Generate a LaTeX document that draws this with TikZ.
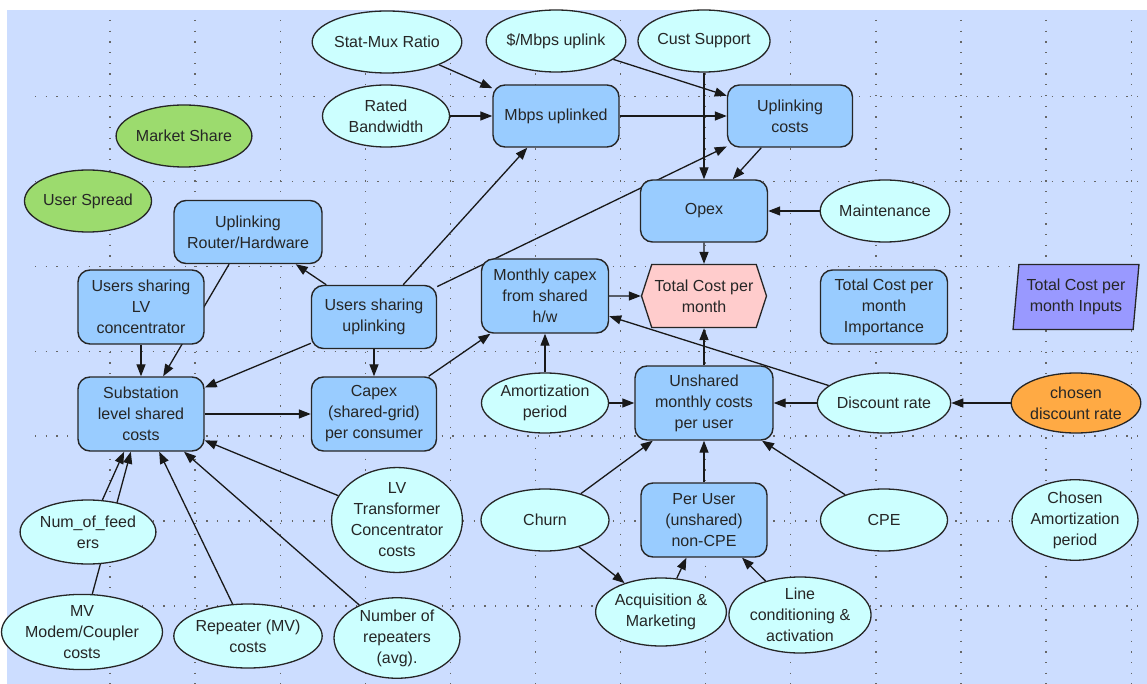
\documentclass[tikz,border=0pt]{standalone}
\usepackage{fontspec}
\setmainfont{Liberation Sans}
\usetikzlibrary{shapes.geometric,shapes.symbols,arrows.meta}
\definecolor{bgblue}{HTML}{CCDDFF}
\definecolor{boxblue}{HTML}{99CCFF}
\definecolor{ovalcyan}{HTML}{CCFFFF}
\definecolor{leafgreen}{HTML}{9CDB6E}
\definecolor{orangefill}{HTML}{FFAA44}
\definecolor{pinkfill}{HTML}{FFCCCC}
\definecolor{purplefill}{HTML}{9999FF}
\pgfdeclarelayer{back}
\pgfdeclarelayer{links}
\pgfsetlayers{back,links,main}

\begin{document}
\begin{tikzpicture}[x=1pt,y=-1pt,
    every node/.style={font=\fontsize{16}{21}\selectfont, text=black!85, align=center, inner sep=0pt},
    box/.style={rectangle, rounded corners=12pt, draw=black!85, line width=1.4pt, fill=boxblue, minimum width=126pt, minimum height=74pt},
    oval/.style={ellipse, draw=black!85, line width=1.3pt, fill=ovalcyan, minimum width=127pt, minimum height=62pt},
    link/.style={line width=1.3pt, black!90, -{Triangle[length=12pt,width=9pt]}},
    grid/.style={black!60, line width=1.3pt, dash pattern=on 1.3pt off 9.4pt}]
        \useasboundingbox (0,0) rectangle (1147,684);
        % Background and grid
        \begin{pgfonlayer}{back}
        \fill[bgblue] (7,10) rectangle (1147,684);
        \foreach \i in {0,...,12}
            \draw[grid] ({110+85.1*\i},20) -- ({110+85.1*\i},684);
        \foreach \j in {0,...,6}
            \draw[grid] (35,{96.5+84.9*\j}) -- (1147,{96.5+84.9*\j});
        \end{pgfonlayer}
        % Top row inputs
        \node[oval, minimum width=130pt] (smr) at (387,42) {Stat-Mux Ratio};
        \node[oval] (dpm) at (556,41) {\$/Mbps uplink};
        \node[oval] (cs) at (704,41) {Cust Support};
        \node[oval] (rbw) at (386,116) {Rated\\Bandwidth};
        \node[box, minimum height=62pt] (mbu) at (556,116) {Mbps uplinked};
        \node[box, minimum width=125pt, minimum height=62pt] (upc) at (790,116) {Uplinking\\costs};
        \node[oval, fill=leafgreen] (msh) at (184,136) {Market Share};
        \node[oval, fill=leafgreen] (usp) at (88,201) {User Spread};
        \node[box, minimum width=127pt, minimum height=62pt] (opx) at (704,211) {Opex};
        \node[oval] (mnt) at (885,211) {Maintenance};
        % Shared grid part
        \node[box, minimum width=148pt, minimum height=63pt] (rtr) at (248,232) {Uplinking\\Router/Hardware};
        \node[box] (ulv) at (141,307) {Users sharing\\LV\\concentrator};
        \node[box, minimum width=125pt, minimum height=63pt] (uul) at (374,317) {Users sharing\\uplinking};
        \node[box] (sub) at (141,414) {Substation\\level shared\\costs};
        \node[box, minimum width=125pt] (cpx) at (374,414) {Capex\\(shared-grid)\\per consumer};
        \node[box, minimum width=127pt] (mcx) at (545,296) {Monthly capex\\from shared\\h/w};
        % Totals
        \node[signal, signal to=west and east, signal pointer angle=144, draw=black!85, line width=1.3pt, fill=pinkfill,
              minimum width=125pt, minimum height=63pt] (tcm) at (704,296) {Total Cost per\\month};
        \node[box, minimum width=127pt] (imp) at (884,307) {Total Cost per\\month\\Importance};
        \node[trapezium, trapezium left angle=82, trapezium right angle=98, trapezium stretches=true, draw=black!85,
              line width=1.3pt, fill=purplefill, minimum width=126pt, minimum height=65pt] (tci) at (1076,297) {Total Cost per\\month Inputs};
        % Per user part
        \node[oval, minimum height=60pt] (amp) at (545,403) {Amortization\\period};
        \node[box, minimum width=138pt] (uns) at (704,403) {Unshared\\monthly costs\\per user};
        \node[oval, minimum height=60pt] (dsc) at (884,403) {Discount rate};
        \node[oval, minimum width=126pt, minimum height=60pt, fill=orangefill] (cdr) at (1076,403) {chosen\\discount rate};
        \node[oval, minimum width=128pt] (chu) at (545,520) {Churn};
        \node[box] (pu) at (704,520) {Per User\\(unshared)\\non-CPE};
        \node[oval] (cpe) at (884,520) {CPE};
        \node[oval, minimum width=126pt, minimum height=74pt] (cap) at (1075,520) {Chosen\\Amortization\\period};
        \node[oval, minimum width=126pt, minimum height=68pt] (acq) at (661,612) {Acquisition \&\\Marketing};
        \node[oval, minimum width=126pt, minimum height=74pt] (lnc) at (800,615) {Line\\conditioning \&\\activation};
        % Grid hardware inputs
        \node[oval, minimum width=128pt, minimum height=64pt] (nof) at (88,532) {Num\_of\_feed\\ers};
        \node[oval, minimum width=128pt, minimum height=96pt] (lvt) at (397,520) {LV\\Transformer\\Concentrator\\costs};
        \node[oval, minimum width=134pt, minimum height=72pt] (mvm) at (82,632) {MV\\Modem/Coupler\\costs};
        \node[oval, minimum width=126pt, minimum height=64pt] (rep) at (248,636) {Repeater (MV)\\costs};
        \node[oval, minimum width=126pt, minimum height=76pt] (nrp) at (397,638) {Number of\\repeaters\\(avg).};
        % Influences
        \begin{pgfonlayer}{links}
        \draw[link] (smr) -- (mbu);
        \draw[link] (rbw) -- (mbu);
        \draw[link] (dpm) -- (upc);
        \draw[link] (mbu) -- (upc);
        \draw[link] (cs) -- (opx);
        \draw[link] (upc) -- (opx);
        \draw[link] (mnt) -- (opx);
        \draw[link] (uul) -- (upc);
        \draw[link] (uul) -- (mbu);
        \draw[link] (uul) -- (rtr);
        \draw[link] (uul) -- (sub);
        \draw[link] (uul) -- (cpx);
        \draw[link] (rtr) -- (sub);
        \draw[link] (ulv) -- (sub);
        \draw[link] (sub) -- (cpx);
        \draw[link] (cpx) -- (mcx);
        \draw[link] (mcx) -- (tcm);
        \draw[link] (opx) -- (tcm);
        \draw[link] (uns) -- (tcm);
        \draw[link] (amp) -- (mcx);
        \draw[link] (amp) -- (uns);
        \draw[link] (dsc) -- (uns);
        \draw[link] (dsc) -- (mcx);
        \draw[link] (cdr) -- (dsc);
        \draw[link] (chu) -- (uns);
        \draw[link] (pu) -- (uns);
        \draw[link] (cpe) -- (uns);
        \draw[link] (chu) -- (acq);
        \draw[link] (acq) -- (pu);
        \draw[link] (lnc) -- (pu);
        \draw[link] (lvt) -- (sub);
        \draw[link] (nrp) -- (sub);
        \draw[link] (rep) -- (sub);
        \draw[link] (nof) -- (sub);
        \draw[link] (mvm) -- (sub);
        \end{pgfonlayer}
      \end{tikzpicture}
\end{document}
